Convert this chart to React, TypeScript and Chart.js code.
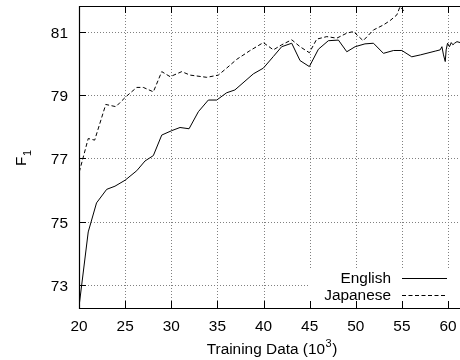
import React, { useEffect, useRef } from "react";
import { Chart, registerables } from "chart.js";

Chart.register(...registerables);

const seriesLabels = ["English", "Japanese"];

const englishX = [20.0, 21.0, 21.9, 23.0, 23.9, 25.0, 26.26, 27.16, 28.06, 28.97, 30.05, 30.95, 31.93, 32.94, 34.02, 34.93, 36.0, 36.9, 38.9, 39.98, 41.07, 41.97, 43.06, 43.96, 44.97, 45.95, 47.03, 48.12, 49.03, 49.93, 51.0, 51.92, 53.0, 54.1, 55.0, 56.07, 57.0, 58.61, 59.15, 59.34, 59.51, 59.7, 59.8, 59.95, 60.16, 60.35, 60.53, 60.71, 60.97, 61.32];
const englishY = [72.3, 74.67, 75.59, 76.02, 76.12, 76.31, 76.61, 76.92, 77.09, 77.74, 77.88, 77.98, 77.94, 78.48, 78.85, 78.85, 79.08, 79.17, 79.68, 79.86, 80.23, 80.54, 80.65, 80.1, 79.91, 80.46, 80.73, 80.75, 80.38, 80.54, 80.63, 80.65, 80.33, 80.42, 80.42, 80.22, 80.28, 80.4, 80.44, 80.54, 80.28, 80.07, 80.44, 80.65, 80.54, 80.67, 80.6, 80.65, 80.7, 80.67];

const japaneseX = [20.03, 21.0, 21.7, 22.9, 24.0, 25.1, 26.26, 26.97, 28.06, 28.97, 29.88, 31.14, 32.04, 33.85, 35.1, 36.0, 37.1, 38.5, 39.98, 41.07, 41.97, 43.06, 43.96, 44.97, 45.77, 46.86, 47.94, 49.03, 49.75, 50.8, 51.92, 53.0, 53.73, 54.46, 54.8, 55.2, 55.35];
const japaneseY = [76.57, 77.63, 77.58, 78.71, 78.64, 78.96, 79.25, 79.25, 79.11, 79.75, 79.59, 79.75, 79.64, 79.57, 79.64, 79.86, 80.14, 80.41, 80.67, 80.44, 80.6, 80.76, 80.54, 80.35, 80.78, 80.86, 80.81, 80.97, 81.02, 80.73, 81.07, 81.23, 81.37, 81.55, 81.81, 81.68, 81.65];

const xTicks = [20, 25, 30, 35, 40, 45, 50, 55, 60];
const yTicks = [73, 75, 77, 79, 81];

const FONT = "'Liberation Sans', Arial, Helvetica, sans-serif";
const SX = 1.1; // horizontal stretch of the reference lettering

function drawText(ctx: any, text: string, x: number, y: number, size: number, align: "left" | "right" | "center", baseline: any = "alphabetic") {
  ctx.save();
  ctx.font = `${size}px ${FONT}`;
  ctx.textBaseline = baseline;
  ctx.textAlign = "left";
  const w = ctx.measureText(text).width * SX;
  let x0 = x;
  if (align === "right") x0 = x - w;
  else if (align === "center") x0 = x - w / 2;
  ctx.translate(x0, y);
  ctx.scale(SX, 1);
  ctx.fillText(text, 0, 0);
  ctx.restore();
  return w;
}

function textWidth(ctx: any, text: string, size: number) {
  ctx.save();
  ctx.font = `${size}px ${FONT}`;
  const w = ctx.measureText(text).width * SX;
  ctx.restore();
  return w;
}

const framePlugin = {
  id: "gnuFrame",
  beforeDatasetsDraw(chart: any) {
    const { ctx, chartArea: a, scales } = chart;
    const xs = scales.x;
    const ys = scales.y;
    ctx.save();
    ctx.strokeStyle = "#808080";
    ctx.lineWidth = 1;
    ctx.setLineDash([1, 2]);
    for (const v of xTicks) {
      if (v === xTicks[0]) continue;
      const px = Math.round(xs.getPixelForValue(v)) + 0.5;
      ctx.beginPath();
      ctx.moveTo(px, a.top);
      ctx.lineTo(px, a.bottom);
      ctx.stroke();
    }
    for (const v of yTicks) {
      const py = Math.round(ys.getPixelForValue(v)) + 0.5;
      ctx.beginPath();
      ctx.moveTo(a.left, py);
      ctx.lineTo(a.right, py);
      ctx.stroke();
    }
    ctx.restore();
  },
  afterDatasetsDraw(chart: any) {
    const { ctx, chartArea: a, scales } = chart;
    const xs = scales.x;
    const ys = scales.y;
    ctx.save();
    // legend box
    const boxL = a.right - 150;
    const boxT = a.bottom - 38;
    ctx.fillStyle = "#ffffff";
    ctx.fillRect(boxL, boxT, 148, 38);
    ctx.fillStyle = "#000";
    const rows = [a.bottom - 30, a.bottom - 13];
    chart.data.datasets.forEach((ds: any, i: number) => {
      drawText(ctx, ds.label, a.right - 69, rows[i] + 5, 14, "right");
      ctx.beginPath();
      ctx.setLineDash(ds.borderDash || []);
      ctx.strokeStyle = ds.borderColor;
      ctx.lineWidth = 1;
      const yy = Math.round(rows[i]) + 0.5;
      ctx.moveTo(a.right - 58, yy);
      ctx.lineTo(a.right - 13, yy);
      ctx.stroke();
    });
    ctx.setLineDash([]);
    // frame
    ctx.strokeStyle = "#000";
    ctx.lineWidth = 1.2;
    ctx.beginPath();
    ctx.moveTo(a.right + 2, Math.round(a.top) + 0.5);
    ctx.lineTo(Math.round(a.left) + 0.5, Math.round(a.top) + 0.5);
    ctx.lineTo(Math.round(a.left) + 0.5, Math.round(a.bottom) + 0.5);
    ctx.lineTo(a.right + 2, Math.round(a.bottom) + 0.5);
    ctx.stroke();
    // inward ticks
    ctx.lineWidth = 1;
    const tl = 7;
    for (const v of xTicks) {
      const px = Math.round(xs.getPixelForValue(v)) + 0.5;
      ctx.beginPath();
      ctx.moveTo(px, a.bottom);
      ctx.lineTo(px, a.bottom - tl);
      ctx.moveTo(px, a.top);
      ctx.lineTo(px, a.top + tl);
      ctx.stroke();
    }
    for (const v of yTicks) {
      const py = Math.round(ys.getPixelForValue(v)) + 0.5;
      ctx.beginPath();
      ctx.moveTo(a.left, py);
      ctx.lineTo(a.left + tl, py);
      ctx.stroke();
    }
    ctx.restore();
  },
  afterDraw(chart: any) {
    const { ctx, chartArea: a, scales } = chart;
    const xs = scales.x;
    const ys = scales.y;
    ctx.save();
    ctx.fillStyle = "#000";
    // tick labels
    for (const v of xTicks) {
      drawText(ctx, String(v), xs.getPixelForValue(v), a.bottom + 22.5, 14, "center");
    }
    for (const v of yTicks) {
      drawText(ctx, String(v), a.left - 11, ys.getPixelForValue(v) + 6, 14, "right");
    }
    // x title with superscript
    const main = "Training Data (10";
    const sup = "3";
    const close = ")";
    const wMain = textWidth(ctx, main, 14);
    const wSup = textWidth(ctx, sup, 10);
    const wClose = textWidth(ctx, close, 14);
    const total = wMain + wSup + wClose + 1;
    let sx = 272 - total / 2;
    const base = 354;
    drawText(ctx, main, sx, base, 14, "left");
    sx += wMain;
    drawText(ctx, sup, sx + 0.5, base - 7, 10, "left");
    sx += wSup + 1;
    drawText(ctx, close, sx, base, 14, "left");
    // y title F_1 rotated
    ctx.translate(26, 166);
    ctx.rotate(-Math.PI / 2);
    const wF = drawText(ctx, "F", 0, 0, 14, "left");
    drawText(ctx, "1", wF + 0.5, 5, 10, "left");
    ctx.restore();
  },
};

export default function App() {
  const ref = useRef<HTMLCanvasElement | null>(null);
  useEffect(() => {
    if (!ref.current) return;
    const zeroPad = (s: any) => {
      s.paddingTop = 0;
      s.paddingBottom = 0;
      s.paddingLeft = 0;
      s.paddingRight = 0;
    };
    const chart = new Chart(ref.current, {
      type: "line",
      data: {
        datasets: [
          {
            label: seriesLabels[0],
            data: englishX.map((x, i) => ({ x, y: englishY[i] })),
            borderColor: "#000000",
            borderWidth: 1,
            pointRadius: 0,
            tension: 0,
            fill: false,
          },
          {
            label: seriesLabels[1],
            data: japaneseX.map((x, i) => ({ x, y: japaneseY[i] })),
            borderColor: "#000000",
            borderWidth: 1,
            borderDash: [4, 2.5],
            pointRadius: 0,
            tension: 0,
            fill: false,
          },
        ],
      },
      options: {
        animation: false,
        responsive: false,
        devicePixelRatio: 1,
        layout: { padding: { top: 6, right: 0, left: 0, bottom: 0 } },
        plugins: {
          legend: { display: false },
          tooltip: { enabled: false },
          title: { display: false },
        },
        scales: {
          x: {
            type: "linear",
            min: 20,
            max: 61.3,
            grid: { display: false, drawTicks: false },
            border: { display: false },
            afterBuildTicks: (s: any) => {
              s.ticks = xTicks.map((v) => ({ value: v }));
            },
            afterFit: (s: any) => {
              s.height = 52;
              zeroPad(s);
            },
            ticks: { display: false },
          },
          y: {
            type: "linear",
            min: 72.26,
            max: 81.83,
            grid: { display: false, drawTicks: false },
            border: { display: false },
            afterBuildTicks: (s: any) => {
              s.ticks = yTicks.map((v) => ({ value: v }));
            },
            afterFit: (s: any) => {
              s.width = 79;
              zeroPad(s);
            },
            ticks: { display: false },
          },
        },
      },
      plugins: [framePlugin],
    });
    return () => chart.destroy();
  }, []);
  return (
    <div style={{ position: "absolute", left: 0, top: 0, width: 460, height: 360, background: "#fff" }}>
      <canvas ref={ref} width={460} height={360} style={{ display: "block" }} />
    </div>
  );
}
